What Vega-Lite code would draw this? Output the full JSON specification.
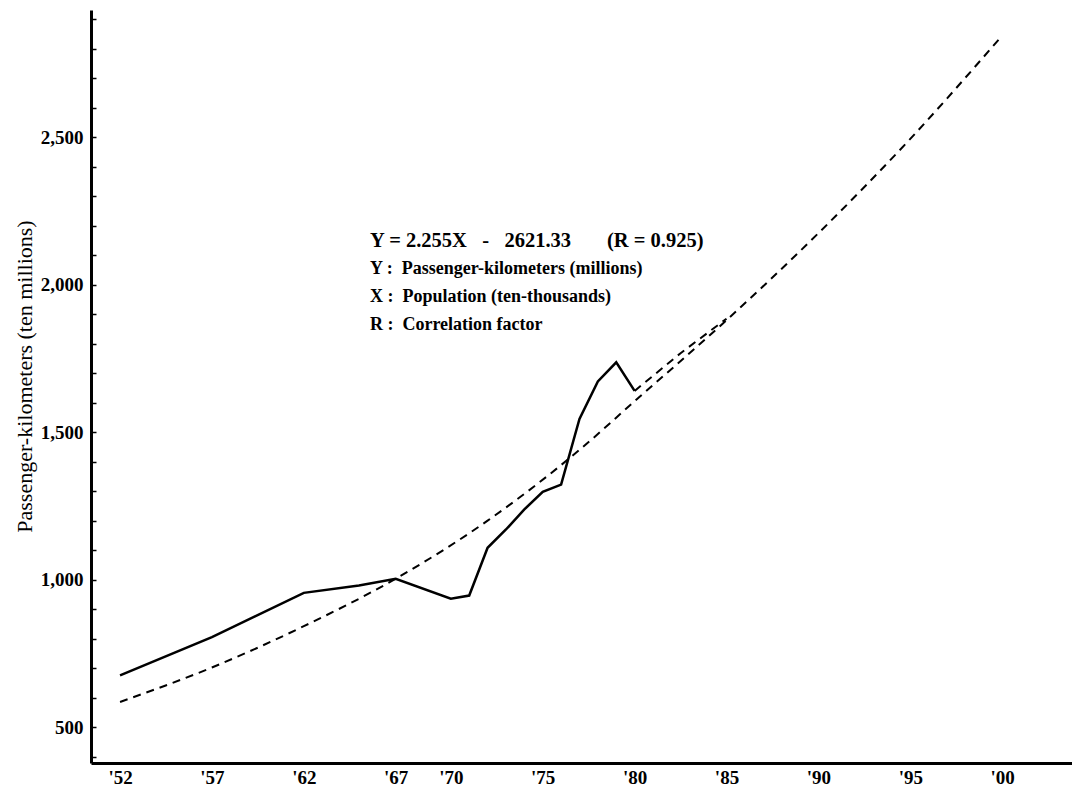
{
  "$schema": "https://vega.github.io/schema/vega-lite/v6.json",
  "autosize": {"type": "none"},
  "padding": {"left": 91, "top": 10, "right": 0, "bottom": 33},
  "width": 981,
  "height": 753,
  "background": "white",
  "config": {
    "view": {"stroke": null},
    "font": "Liberation Serif"
  },
  "resolve": {"axis": {"y": "independent"}},
  "datasets": {
    "series": [
      {"year": 1952, "value": 675, "series": "actual"},
      {"year": 1957, "value": 805, "series": "actual"},
      {"year": 1962, "value": 955, "series": "actual"},
      {"year": 1965, "value": 980, "series": "actual"},
      {"year": 1967, "value": 1003, "series": "actual"},
      {"year": 1970, "value": 935, "series": "actual"},
      {"year": 1971, "value": 946, "series": "actual"},
      {"year": 1972, "value": 1108, "series": "actual"},
      {"year": 1973, "value": 1170, "series": "actual"},
      {"year": 1974, "value": 1238, "series": "actual"},
      {"year": 1975, "value": 1298, "series": "actual"},
      {"year": 1976, "value": 1322, "series": "actual"},
      {"year": 1977, "value": 1545, "series": "actual"},
      {"year": 1978, "value": 1672, "series": "actual"},
      {"year": 1979, "value": 1737, "series": "actual"},
      {"year": 1980, "value": 1640, "series": "actual"},
      {"year": 1952, "value": 585, "series": "trend"},
      {"year": 1957, "value": 702, "series": "trend"},
      {"year": 1962, "value": 842, "series": "trend"},
      {"year": 1967, "value": 1003, "series": "trend"},
      {"year": 1972, "value": 1200, "series": "trend"},
      {"year": 1977, "value": 1440, "series": "trend"},
      {"year": 1980, "value": 1605, "series": "trend"},
      {"year": 1985, "value": 1880, "series": "trend"},
      {"year": 1990, "value": 2175, "series": "trend"},
      {"year": 1995, "value": 2495, "series": "trend"},
      {"year": 2000, "value": 2845, "series": "trend"},
      {"year": 1980, "value": 1640, "series": "trend2"},
      {"year": 1982.5, "value": 1768, "series": "trend2"},
      {"year": 1985, "value": 1885, "series": "trend2"}
    ],
    "notes": [
      {"year": 1965.6, "value": 2150, "size": 20.5, "label": "Y = 2.255X\u00a0\u00a0\u00a0-\u00a0\u00a0\u00a02621.33\u00a0\u00a0\u00a0\u00a0\u00a0\u00a0\u00a0(R = 0.925)"},
      {"year": 1965.6, "value": 2055, "size": 18, "label": "Y :\u00a0\u00a0Passenger-kilometers (millions)"},
      {"year": 1965.6, "value": 1960, "size": 18, "label": "X :\u00a0\u00a0Population (ten-thousands)"},
      {"year": 1965.6, "value": 1865, "size": 18, "label": "R :\u00a0\u00a0Correlation factor"}
    ]
  },
  "layer": [
    {
      "data": {"name": "series"},
      "transform": [{"filter": "datum.series === 'trend'"}],
      "mark": {"type": "line", "color": "black", "strokeWidth": 2, "strokeDash": [8, 6], "interpolate": "monotone"},
      "encoding": {
        "x": {
          "field": "year", "type": "quantitative",
          "scale": {"domain": [1950.42, 2003.8], "nice": false, "zero": false},
          "axis": {
            "title": null,
            "values": [1952, 1957, 1962, 1967, 1970, 1975, 1980, 1985, 1990, 1995, 2000],
            "labelExpr": "\"'\" + slice(toString(datum.value), 2)",
            "ticks": false, "grid": false,
            "domainColor": "black", "domainWidth": 3,
            "labelFont": "Liberation Serif", "labelFontWeight": "bold", "labelFontSize": 19, "labelColor": "black",
            "labelPadding": 5, "labelOverlap": false
          }
        },
        "y": {
          "field": "value", "type": "quantitative",
          "scale": {"domain": [378, 2932], "nice": false, "zero": false},
          "axis": {
            "orient": "left",
            "title": "Passenger-kilometers (ten millions)",
            "titleFont": "Liberation Serif", "titleFontSize": 22, "titleFontWeight": "normal", "titleColor": "black",
            "titlePadding": 4,
            "titleY": 366,
            "values": [500, 1000, 1500, 2000, 2500],
            "format": ",.0f",
            "labelOverlap": false,
            "tickSize": -5, "tickColor": "black", "tickWidth": 1.5,
            "grid": false,
            "domainColor": "black", "domainWidth": 3,
            "labelFont": "Liberation Serif", "labelFontWeight": "bold", "labelFontSize": 19, "labelColor": "black",
            "labelPadding": 13
          }
        }
      }
    },
    {
      "data": {"name": "series"},
      "transform": [{"filter": "datum.series === 'trend2'"}],
      "mark": {"type": "line", "color": "black", "strokeWidth": 2, "strokeDash": [8, 6]},
      "encoding": {
        "x": {"field": "year", "type": "quantitative"},
        "y": {
          "field": "value", "type": "quantitative",
          "axis": {
            "orient": "left",
            "title": null,
            "values": [400, 600, 700, 800, 900, 1100, 1200, 1300, 1400, 1600, 1700, 1800, 1900, 2100, 2200, 2300, 2400, 2600, 2700, 2800, 2900],
            "labels": false,
            "domain": false,
            "grid": false,
            "tickSize": -5, "tickColor": "black", "tickWidth": 1.5
          }
        }
      }
    },
    {
      "data": {"name": "series"},
      "transform": [{"filter": "datum.series === 'actual'"}],
      "mark": {"type": "line", "color": "black", "strokeWidth": 2.5},
      "encoding": {
        "x": {"field": "year", "type": "quantitative"},
        "y": {"field": "value", "type": "quantitative", "axis": null}
      }
    },
    {
      "data": {"name": "notes"},
      "mark": {"type": "text", "align": "left", "baseline": "middle", "font": "Liberation Serif", "fontWeight": "bold", "color": "black"},
      "encoding": {
        "x": {"field": "year", "type": "quantitative"},
        "y": {"field": "value", "type": "quantitative", "axis": null},
        "text": {"field": "label"},
        "size": {"field": "size", "type": "quantitative", "scale": null}
      }
    }
  ]
}
